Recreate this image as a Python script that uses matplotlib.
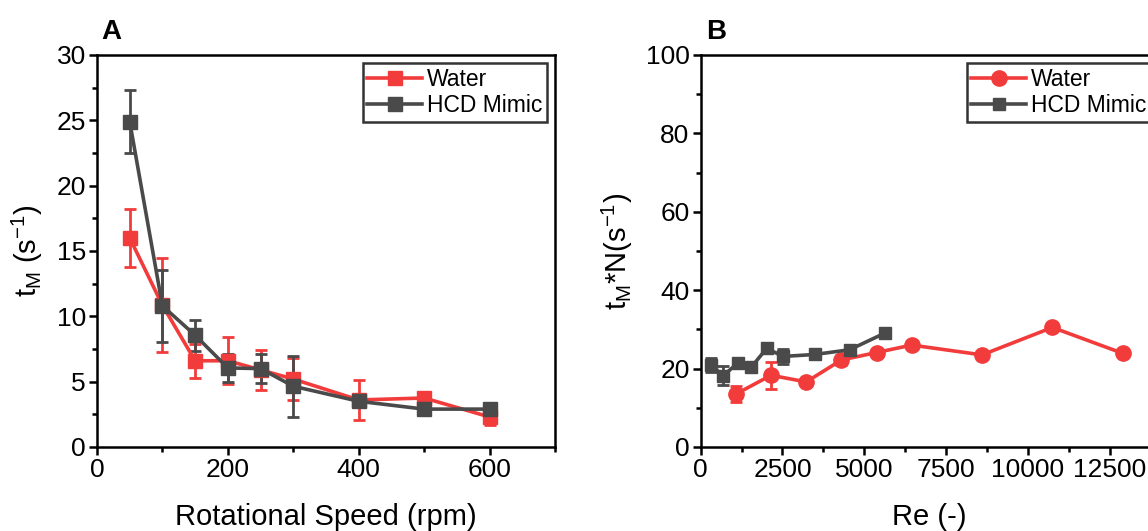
import matplotlib
matplotlib.use("Agg")
import matplotlib.pyplot as plt
from matplotlib.ticker import MultipleLocator
from matplotlib.lines import Line2D

plt.rcParams['font.family'] = ['Liberation Sans', 'DejaVu Sans']

# ---- Panel A data ----
rpm = [50, 100, 150, 200, 250, 300, 400, 500, 600]
water_tm = [16.0, 10.85, 6.6, 6.6, 5.9, 5.2, 3.6, 3.75, 2.3]
water_tm_err = [2.2, 3.6, 1.3, 1.8, 1.5, 1.6, 1.55, 0.3, 0.6]
hcd_tm = [24.9, 10.8, 8.55, 6.05, 6.0, 4.65, 3.5, 2.9, 2.9]
hcd_tm_err = [2.4, 2.75, 1.2, 1.1, 1.1, 2.35, 0.3, 0.4, 0.3]

# ---- Panel B data ----
water_re = [1075, 2150, 3225, 4300, 5375, 6450, 8600, 10750, 12900]
water_tmn = [13.5, 18.3, 16.6, 22.2, 24.1, 26.0, 23.5, 30.5, 23.9]
water_tmn_err = [2.0, 3.5, 1.0, 1.2, 1.0, 1.0, 1.0, 1.0, 1.0]
hcd_re = [300, 690, 1130, 1540, 2020, 2510, 3480, 4550, 5640]
hcd_tmn = [21.0, 18.2, 21.4, 20.3, 25.2, 23.1, 23.6, 24.8, 29.1]
hcd_tmn_err = [1.8, 2.5, 1.2, 1.0, 1.2, 1.8, 1.0, 1.2, 1.0]

RED = '#F23B3B'
GRAY = '#4A4A4A'

fig = plt.figure(figsize=(11.48, 5.31), dpi=100)
W, H = 1148, 531
axA = fig.add_axes([97 / W, 1 - 447 / H, 458 / W, 392 / H])
axB = fig.add_axes([700.7 / W, 1 - 447 / H, 458 / W, 392 / H])

eb_kw = dict(lw=2.6, capsize=4.5, capthick=2, elinewidth=2)

axA.errorbar(rpm, water_tm, yerr=water_tm_err, color=RED, marker='s', ms=10, **eb_kw)
axA.errorbar(rpm, hcd_tm, yerr=hcd_tm_err, color=GRAY, marker='s', ms=10, **eb_kw)

axB.errorbar(water_re, water_tmn, yerr=water_tmn_err, color=RED, marker='o', ms=11, **eb_kw)
axB.errorbar(hcd_re, hcd_tmn, yerr=hcd_tmn_err, color=GRAY, marker='s', ms=9, **eb_kw)

axA.set_xlim(0, 700)
axA.set_ylim(0, 30)
axA.xaxis.set_major_locator(MultipleLocator(200))
axA.xaxis.set_minor_locator(MultipleLocator(100))
axA.yaxis.set_major_locator(MultipleLocator(5))
axA.yaxis.set_minor_locator(MultipleLocator(2.5))

axB.set_xlim(0, 14000)
axB.set_ylim(0, 100)
axB.xaxis.set_major_locator(MultipleLocator(2500))
axB.xaxis.set_minor_locator(MultipleLocator(1250))
axB.yaxis.set_major_locator(MultipleLocator(20))
axB.yaxis.set_minor_locator(MultipleLocator(10))

handlesA = [Line2D([], [], color=RED, marker='s', ms=10, lw=2.6),
            Line2D([], [], color=GRAY, marker='s', ms=10, lw=2.6)]
handlesB = [Line2D([], [], color=RED, marker='o', ms=11, lw=2.6),
            Line2D([], [], color=GRAY, marker='s', ms=9, lw=2.6)]

for ax, hs in ((axA, handlesA), (axB, handlesB)):
    for s in ax.spines.values():
        s.set_linewidth(1.8)
    ax.tick_params(which='major', direction='out', length=6, width=1.8,
                   labelsize=19, pad=2, top=False, right=False)
    ax.tick_params(which='minor', direction='out', length=3.5, width=1.8,
                   top=False, right=False)
    leg = ax.legend(hs, ['Water', 'HCD Mimic'], loc='upper right', fontsize=16.5,
                    frameon=True, fancybox=False,
                    handlelength=2.4, handletextpad=0.2, borderpad=0.2,
                    labelspacing=0.15, borderaxespad=0.35)
    leg.get_frame().set_edgecolor('black')
    leg.get_frame().set_linewidth(1.8)

axA.set_xlabel('Rotational Speed (rpm)', fontsize=21, labelpad=15)
axA.set_ylabel(r't$_\mathregular{M}$ (s$^\mathregular{-1}$)', fontsize=21, labelpad=8)
axB.set_xlabel('Re (-)', fontsize=21, labelpad=15)
axB.set_ylabel(r't$_\mathregular{M}$*N(s$^\mathregular{-1}$)', fontsize=21, labelpad=8)

fig.text(101 / W, 1 - 32 / H, 'A', fontsize=20, fontweight='bold', va='center', ha='left')
fig.text(706 / W, 1 - 32 / H, 'B', fontsize=20, fontweight='bold', va='center', ha='left')

fig.savefig('out.png', dpi=100)
